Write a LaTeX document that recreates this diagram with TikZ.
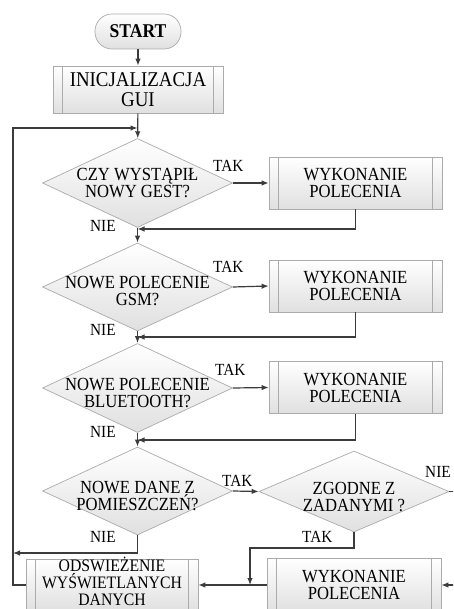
\documentclass[tikz,border=0pt]{standalone}
\usepackage{fontspec}
\setmainfont{Liberation Serif}[FakeStretch=0.9]
\usetikzlibrary{shapes.geometric,arrows.meta,calc}
\definecolor{edgec}{HTML}{ABABAB}
\definecolor{linec}{HTML}{3C3C3C}
\definecolor{fillb}{HTML}{E0E0E0}
\newcommand{\procsides}[1]{\draw[edgec, line width=0.6pt] ([xshift=10pt]#1.north west) -- ([xshift=10pt]#1.south west) ([xshift=-10pt]#1.north east) -- ([xshift=-10pt]#1.south east);}
\begin{document}
\begin{tikzpicture}[x=1pt,y=-1pt,
  shapebox/.style={draw=edgec, line width=0.7pt, top color=white, bottom color=fillb, inner sep=0pt},
  proc/.style={shapebox, rectangle, align=center, font=\fontsize{18.5}{17}\selectfont},
  dec/.style={shapebox, diamond, minimum width=190pt, minimum height=89pt},
  dtxt/.style={align=center, font=\fontsize{18.5}{17}\selectfont, inner sep=0pt},
  lbl/.style={font=\fontsize{17}{17}\selectfont, inner sep=0pt, anchor=base west},
  conn/.style={draw=linec, line width=1.2pt},
  arr/.style={conn, -{Latex[length=7pt,width=5.5pt]}}]
\useasboundingbox (0,0) rectangle (453,609);
\clip (0,0) rectangle (453,609);

% nodes
\node[shapebox, rounded corners=17pt, minimum width=86pt, minimum height=35pt,
      font=\bfseries\fontsize{19.5}{19.5}\selectfont] (start) at (138,31.5) {START};
\node[proc, minimum width=170pt, minimum height=47pt,
      font=\fontsize{21}{20}\selectfont] (init) at (138,89.5) {INICJALIZACJA\\GUI};
\procsides{init}

\node[dec] (d1) at (137.5,183) {};
\node[dtxt] (t1) at (d1.center) {CZY WYSTĄPIŁ\\NOWY GEST?};
\node[proc, minimum width=173pt, minimum height=52pt] (b1) at (355.5,183) {WYKONANIE\\POLECENIA};
\procsides{b1}

\node[dec, minimum height=88pt] (d2) at (137.5,287) {};
\node[dtxt] (t2) at ([yshift=-4pt]d2.center) {NOWE POLECENIE\\GSM?};
\node[proc, minimum width=173pt, minimum height=52pt] (b2) at (355.5,286) {WYKONANIE\\POLECENIA};
\procsides{b2}

\node[dec] (d3) at (137.5,388) {};
\node[dtxt] (t3) at ([yshift=-5pt]d3.center) {NOWE POLECENIE\\BLUETOOTH?};
\node[proc, minimum width=173pt, minimum height=52pt] (b3) at (355.5,387.5) {WYKONANIE\\POLECENIA};
\procsides{b3}

\node[dec, minimum height=88pt] (d4) at (137.5,491) {};
\node[dtxt] (t4) at ([yshift=-5pt]d4.center) {NOWE DANE Z\\POMIESZCZEŃ?};
\node[dec, minimum height=81pt] (d5) at (354,491.5) {};
\node[dtxt] (t5) at ([yshift=-6pt]d5.center) {ZGODNE Z\\ZADANYMI ?};

\node[proc, minimum width=172pt, minimum height=52pt] (ods) at (112,585) {};
\node[dtxt, font=\fontsize{17.5}{17}\selectfont] (tods) at (112,581) {ODSWIEŻENIE\\WYŚWIETLANYCH\\DANYCH};
\procsides{ods}
\node[proc, minimum width=174pt, minimum height=54pt] (b4) at (354,585) {WYKONANIE\\POLECENIA};
\procsides{b4}

% coordinates
\coordinate (j0) at (137.5,128);
\coordinate (lx) at (13,128);
\coordinate (m1) at (137.5,229);
\coordinate (m2) at (137.5,337);
\coordinate (m3) at (137.5,440);
\coordinate (nx) at (13,553);
\coordinate (k5) at (250,548);
\coordinate (j5) at (250,585);
\coordinate (rout) at (470,491.5);
\coordinate (rin) at (470,585);

% connectors
\draw[arr] (start) -- (init);
\draw[arr] (init) -- (d1);
\draw[arr] (ods.west) -| (lx) -- (j0);

\draw[arr] (d1) -- (d2);
\draw[arr] (d1.east) -- (b1.west);
\draw[arr] (b1.south) |- (m1);
\node[lbl] (tak1) at (213,172) {TAK};
\node[lbl] (nie1) at (90,232) {NIE};

\draw[arr] (d2) -- (d3);
\draw[arr] (d2.east) -- (b2.west);
\draw[arr] (b2.south) |- (m2);
\node[lbl] (tak2) at (213,272) {TAK};
\node[lbl] (nie2) at (90,335) {NIE};

\draw[arr] (d3) -- (d4);
\draw[arr] (d3.east) -- (b3.west);
\draw[arr] (b3.south) |- (m3);
\node[lbl] (tak3) at (215,375) {TAK};
\node[lbl] (nie3) at (90,437) {NIE};

\draw[arr] (d4.east) -- (d5.west);
\node[lbl] (tak4) at (222,486) {TAK};
\draw[arr] (d4.south) |- (nx);
\node[lbl] (nie4) at (90,542) {NIE};

\draw[conn] (d5.east) -- (rout);
\node[lbl] (nie5) at (425,477) {NIE};
\draw[arr] (d5.south) |- (k5) -- (j5);
\node[lbl] (tak5) at (302,542) {TAK};

\draw[arr] (b4.west) -- (ods.east);
\draw[arr] (rin) -- (b4.east);
\end{tikzpicture}
\end{document}
